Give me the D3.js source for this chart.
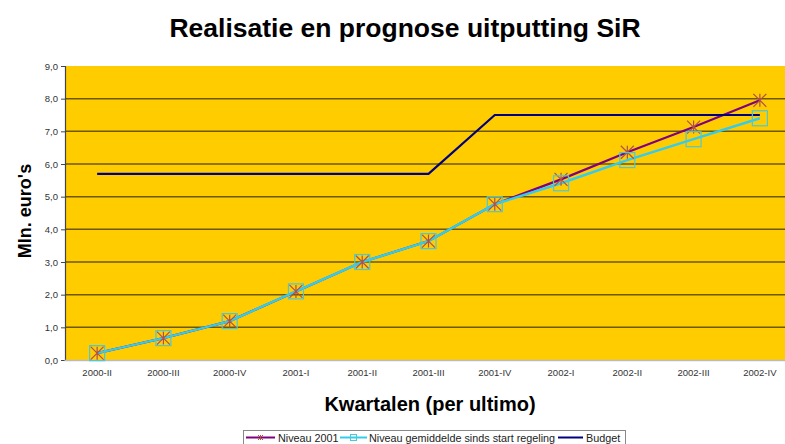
<!DOCTYPE html>
<html>
<head>
<meta charset="utf-8">
<script src="https://cdn.jsdelivr.net/npm/d3@7"></script>
<style>
  body { margin: 0; background: #fff; overflow: hidden; }
  text { font-family: "Liberation Sans", Arial, sans-serif; }
</style>
</head>
<body>
<div id="chart_container"></div>
<script>
// categories (quarters)
let quarters = ["2000-II", "2000-III", "2000-IV", "2001-I", "2001-II", "2001-III", "2001-IV", "2002-I", "2002-II", "2002-III", "2002-IV"];
// series values (mln euro)
let niveau2001 = [0.21, 0.67, 1.19, 2.1, 3.0, 3.64, 4.77, 5.53, 6.36, 7.13, 7.95];
let niveauGemiddeld = [0.21, 0.67, 1.19, 2.1, 3.0, 3.64, 4.77, 5.41, 6.12, 6.76, 7.4];
let budget = [5.7, 5.7, 5.7, 5.7, 5.7, 5.7, 7.5, 7.5, 7.5, 7.5, 7.5];
let yTicks = [0, 1, 2, 3, 4, 5, 6, 7, 8, 9];
let legendLabels = ["Niveau  2001", "Niveau gemiddelde sinds start regeling", "Budget"];

let width = 785, height = 444;
let svg = d3.select("#chart_container").append("svg")
  .attr("width", width)
  .attr("height", height);

// plot area
let plot = {left: 65, right: 793, top: 66, bottom: 360};

let x = d3.scaleBand().domain(quarters).range([plot.left - 1, plot.right]).padding(0);
let y = d3.scaleLinear().domain([0, 9]).range([plot.bottom, plot.top]);
let cx = d => x(d) + x.bandwidth() / 2;

svg.append("rect")
  .attr("x", plot.left).attr("y", plot.top)
  .attr("width", plot.right - plot.left).attr("height", plot.bottom - plot.top)
  .attr("fill", "#ffcc00");

// gridlines
svg.selectAll(".grid")
  .data(yTicks.filter(t => t > 0 && t < 9))
  .enter().append("line")
  .attr("x1", plot.left).attr("x2", plot.right)
  .attr("y1", d => y(d)).attr("y2", d => y(d))
  .attr("stroke", "#6b5800")
  .attr("stroke-width", 1.5);

// y axis
let yAxis = svg.append("g")
  .attr("transform", "translate(" + plot.left + ",0)")
  .call(d3.axisLeft(y).tickValues(yTicks).tickSize(4).tickPadding(3)
    .tickFormat(d => d3.format(".1f")(d).replace(".", ",")));
yAxis.select(".domain").attr("stroke", "#444").attr("stroke-width", 1.2);
yAxis.selectAll(".tick line").attr("stroke", "#444");
yAxis.selectAll("text").attr("fill", "#333").style("font-size", "9.5px")
  .style("font-family", "Liberation Sans, Arial, sans-serif");

// x axis
let xAxis = svg.append("g")
  .attr("transform", "translate(0," + plot.bottom + ")")
  .call(d3.axisBottom(x).tickSize(0).tickPadding(9));
xAxis.select(".domain").attr("stroke", "#bbb").attr("stroke-width", 1.5);
xAxis.selectAll("text").attr("fill", "#333").style("font-size", "9.5px")
  .style("font-family", "Liberation Sans, Arial, sans-serif");

// lines
let line = d3.line().x((d, i) => cx(quarters[i])).y(d => y(d));

svg.append("path").datum(niveau2001)
  .attr("d", line).attr("fill", "none")
  .attr("stroke", "#800080").attr("stroke-width", 2.2);

svg.append("path").datum(niveauGemiddeld)
  .attr("d", line).attr("fill", "none")
  .attr("stroke", "#33ccee").attr("stroke-width", 2.5);

svg.append("path").datum(budget)
  .attr("d", line).attr("fill", "none")
  .attr("stroke", "#000080").attr("stroke-width", 2.2);

// asterisk marker path
function star(s) {
  return "M" + (-s) + "," + (-s) + "L" + s + "," + s +
    "M" + (-s) + "," + s + "L" + s + "," + (-s) +
    "M0," + (-s) + "L0," + s;
}

svg.selectAll(".star")
  .data(niveau2001)
  .enter().append("path")
  .attr("transform", (d, i) => "translate(" + cx(quarters[i]) + "," + y(d) + ")")
  .attr("d", star(6.5))
  .attr("stroke", "#b0504a").attr("stroke-width", 1.2).attr("fill", "none");

svg.selectAll(".square")
  .data(niveauGemiddeld)
  .enter().append("rect")
  .attr("x", (d, i) => cx(quarters[i]) - 7.5)
  .attr("y", d => y(d) - 7.5)
  .attr("width", 15).attr("height", 15)
  .attr("fill", "none")
  .attr("stroke", "#4cc8d8").attr("stroke-width", 1.2);

// titles
svg.append("text")
  .attr("x", 405).attr("y", 37)
  .attr("text-anchor", "middle")
  .style("font-size", "26.5px").style("font-weight", "bold")
  .text("Realisatie en prognose uitputting SiR");

svg.append("text")
  .attr("transform", "translate(31,211) rotate(-90)")
  .attr("text-anchor", "middle")
  .style("font-size", "18px").style("font-weight", "bold")
  .text("Mln. euro's");

svg.append("text")
  .attr("x", 430).attr("y", 411)
  .attr("text-anchor", "middle")
  .style("font-size", "20px").style("font-weight", "bold")
  .text("Kwartalen (per ultimo)");

// legend
let legend = svg.append("g");
legend.append("rect")
  .attr("x", 243.5).attr("y", 430.5).attr("width", 382).attr("height", 20)
  .attr("fill", "#fff").attr("stroke", "#888");

let legendItems = [
  {x: 246, w: 29, color: "#800080", tx: 278},
  {x: 340, w: 27, color: "#33ccee", tx: 369},
  {x: 558, w: 25, color: "#000080", tx: 586}
];
legendItems.forEach((it, i) => {
  legend.append("line")
    .attr("x1", it.x).attr("x2", it.x + it.w)
    .attr("y1", 437.5).attr("y2", 437.5)
    .attr("stroke", it.color).attr("stroke-width", 2);
  if (i == 0) {
    legend.append("path")
      .attr("transform", "translate(" + (it.x + it.w / 2) + ",437.5)")
      .attr("d", star(2.5)).attr("stroke", "#b0504a").attr("fill", "none");
  }
  if (i == 1) {
    legend.append("rect")
      .attr("x", it.x + it.w / 2 - 3).attr("y", 434.5)
      .attr("width", 6).attr("height", 6)
      .attr("fill", "none").attr("stroke", "#4cc8d8");
  }
  legend.append("text")
    .attr("x", it.tx).attr("y", 441.5)
    .attr("fill", "#222")
    .style("font-size", "10.8px")
    .text(legendLabels[i]);
});
</script>
</body>
</html>
